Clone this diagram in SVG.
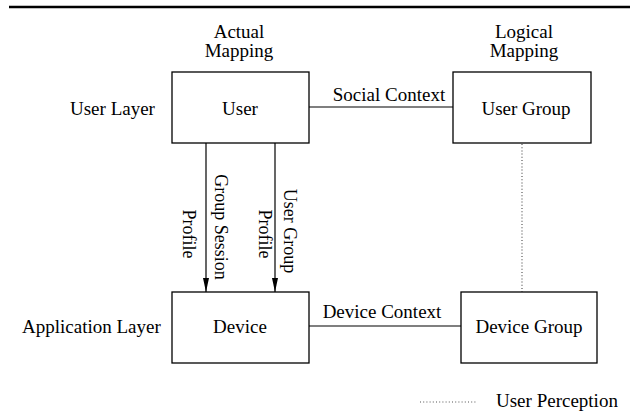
<svg xmlns="http://www.w3.org/2000/svg" width="630" height="412" viewBox="0 0 630 412">
<defs>
<style>
text{font-family:"Liberation Serif","Times New Roman",serif;font-size:19px;fill:#000}
.sm{font-size:18px}
.box{fill:#fff;stroke:#000;stroke-width:1.3}
.ln{stroke:#000;stroke-width:1.2;fill:none}
.dot{stroke:#555;stroke-width:1.2;stroke-dasharray:1 2.2;fill:none}
</style>
<marker id="ah" viewBox="0 0 14 6" refX="14" refY="3" markerWidth="14" markerHeight="6" markerUnits="userSpaceOnUse" orient="auto">
<path d="M0,0 L14,3 L0,6 z" fill="#000"/>
</marker>
</defs>
<rect width="630" height="412" fill="#fff"/>
<line x1="9" y1="7" x2="630" y2="7" stroke="#000" stroke-width="2.5"/>
<g id="labels">
<text x="239" y="38" text-anchor="middle">Actual</text>
<text x="239" y="57" text-anchor="middle">Mapping</text>
<text x="524" y="38" text-anchor="middle">Logical</text>
<text x="524" y="57" text-anchor="middle">Mapping</text>
<text x="70" y="115">User Layer</text>
<text x="22" y="333">Application Layer</text>
</g>
<g id="connectors">
<line class="ln" x1="309" y1="107" x2="453" y2="107"/>
<text x="389" y="101" text-anchor="middle">Social Context</text>
<line class="ln" x1="309" y1="326" x2="461" y2="326"/>
<text x="382" y="318" text-anchor="middle">Device Context</text>
<line class="ln" x1="206" y1="143" x2="206" y2="292" marker-end="url(#ah)"/>
<line class="ln" x1="275" y1="143" x2="275" y2="292" marker-end="url(#ah)"/>
<text class="sm" transform="translate(215,227) rotate(90)" text-anchor="middle">Group Session</text>
<text class="sm" transform="translate(183,234) rotate(90)" text-anchor="middle">Profile</text>
<text class="sm" transform="translate(284,231) rotate(90)" text-anchor="middle">User Group</text>
<text class="sm" transform="translate(259,234) rotate(90)" text-anchor="middle">Profile</text>
<line class="dot" x1="522" y1="144" x2="522" y2="292"/>
</g>
<g id="user">
<rect class="box" x="172" y="72" width="137" height="71"/>
<text x="240" y="115" text-anchor="middle">User</text>
</g>
<g id="user-group">
<rect class="box" x="453" y="72" width="138" height="71"/>
<text x="526" y="115" text-anchor="middle">User Group</text>
</g>
<g id="device">
<rect class="box" x="172" y="292" width="137" height="71"/>
<text x="240" y="333" text-anchor="middle">Device</text>
</g>
<g id="device-group">
<rect class="box" x="461" y="292" width="136" height="71"/>
<text x="529" y="333" text-anchor="middle">Device Group</text>
</g>
<g id="legend">
<line class="dot" x1="420" y1="402" x2="476" y2="402"/>
<text x="496" y="407">User Perception</text>
</g>
</svg>
